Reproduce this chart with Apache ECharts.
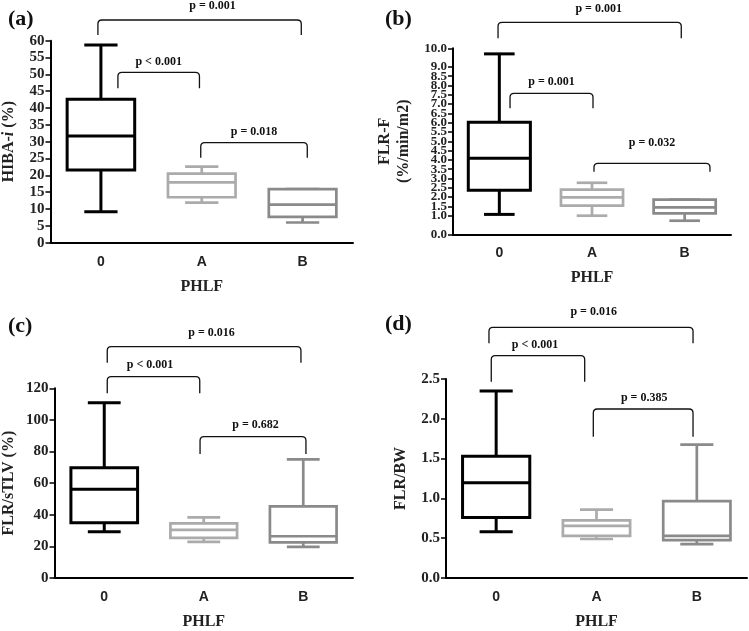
<!DOCTYPE html>
<html>
<head>
<meta charset="utf-8">
<script src="https://cdn.jsdelivr.net/npm/echarts@6/dist/echarts.min.js"></script>
<style>
html,body{margin:0;padding:0;background:#fff;}
#chart{width:749px;height:631px;}
</style>
</head>
<body>
<div id="chart"></div>
<script>
// ---- DATA ----
const categories = ['0', 'A', 'B'];
// each row: [min, Q1, median, Q3, max]
const hibaBoxes = [
  [9.2, 21.6, 31.7, 42.6, 58.7],
  [11.9, 13.5, 17.9, 20.5, 22.6],
  [6.0, 7.7, 11.3, 15.9, 15.9]
];
const flrfBoxes = [
  [1.07, 2.37, 4.09, 6.02, 9.7],
  [1.0, 1.54, 1.99, 2.4, 2.77],
  [0.73, 1.13, 1.45, 1.86, 1.86]
];
const flrStlvBoxes = [
  [29.2, 34.9, 56.2, 69.8, 110.9],
  [22.9, 25.4, 30.4, 34.5, 38.3],
  [19.7, 22.5, 26.4, 45.3, 75.0]
];
const flrBwBoxes = [
  [0.58, 0.76, 1.196, 1.53, 2.35],
  [0.49, 0.53, 0.654, 0.725, 0.86],
  [0.425, 0.475, 0.53, 0.966, 1.675]
];
// tick labels of panel (b)
const flrfTicks = [0, 0.5, 1, 1.5, 2, 2.5, 3, 3.5, 4, 4.5, 5, 5.5, 6, 6.5, 7, 7.5, 8, 8.5, 9, 9.5, 10];
const pHiba = ['p = 0.001', 'p < 0.001', 'p = 0.018'];
const pFlrf = ['p = 0.001', 'p = 0.001', 'p = 0.032'];
const pFlrStlv = ['p = 0.016', 'p < 0.001', 'p = 0.682'];
const pFlrBw = ['p = 0.016', 'p < 0.001', 'p = 0.385'];
const comparisons = [[0, 2], [0, 1], [1, 2]];

// ---- STYLE / LAYOUT ----
const boxColors = ['#000000', '#ababab', '#8a8a8a'];
const SERIF = '"Liberation Serif","Times New Roman",serif';
const SANS = '"Liberation Sans",Arial,sans-serif';

// bracket layout: per panel, per comparison: [fromOffsetPx, toOffsetPx, topY, bottomY, textY, textDx]
const bracketLayout = [
  [[-3, -1.3, 20, 35, 6, 13], [17, -2.3, 72.3, 88.3, 62, 0], [-1, 4.7, 142.7, 157.7, 131.7, 0]],
  [[-1.3, -3.4, 22.3, 38.3, 9, 9], [10.7, 1, 93.3, 108.3, 81.7, 0], [2, 25.3, 163.3, 171.7, 142.7, 0]],
  [[3, -2.3, 346.7, 362.7, 332.7, 7.5], [3, -4, 376.7, 393.3, 365, -3.5], [-3.7, 2.7, 436.7, 454, 425, 2.5]],
  [[-7.2, -3.8, 327.3, 343.3, 312, 2.7], [-4.9, -11.8, 355.7, 381.7, 345, -3], [-3.2, -3.8, 409, 436.7, 398.3, 1]]
];

const grids = [
  {left: 49, top: 40.7, width: 304, height: 202},
  {left: 453, top: 48.3, width: 278, height: 186},
  {left: 53, top: 388.3, width: 300, height: 197.4},
  {left: 446, top: 379, width: 301, height: 200}
];

const panels = [
  {boxes: hibaBoxes, p: pHiba, min: 0, max: 60, interval: 5, dec: 0,
   name: '{b|HIBA-}{i|i}{b| (%)}', nameGap: 32, labelSize: 15, labelLH: 15},
  {boxes: flrfBoxes, p: pFlrf, min: 0, max: 10, interval: 0.5, dec: 1, ticks: flrfTicks,
   name: '{b|FLR-F}\n{b|(%/min/m2)}', nameGap: 40, labelSize: 13, labelLH: 4},
  {boxes: flrStlvBoxes, p: pFlrStlv, min: 0, max: 120, interval: 20, dec: 0,
   name: '{b|FLR/sTLV (%)}', nameGap: 36, labelSize: 15, labelLH: 15},
  {boxes: flrBwBoxes, p: pFlrBw, min: 0, max: 2.5, interval: 0.5, dec: 1,
   name: '{b|FLR/BW}', nameGap: 36, labelSize: 15, labelLH: 15}
];

const panelLabels = [
  {text: '(a)', left: 3, top: 3},
  {text: '(b)', left: 380, top: 3},
  {text: '(c)', left: 3, top: 310},
  {text: '(d)', left: 380, top: 308}
];

const chart = echarts.init(document.getElementById('chart'), null, {renderer: 'canvas'});

function renderBox(params, api) {
  const idx = api.value(0);
  const cx = api.coord([idx, 0])[0];
  const band = api.size([1, 0])[0];
  const yMin = api.coord([idx, api.value(1)])[1];
  const yQ1 = api.coord([idx, api.value(2)])[1];
  const yMed = api.coord([idx, api.value(3)])[1];
  const yQ3 = api.coord([idx, api.value(4)])[1];
  const yMax = api.coord([idx, api.value(5)])[1];
  const bw = band * 0.67, cw = band * 0.33;
  const color = boxColors[idx];
  const lw = idx === 0 ? 3 : 2.7;
  const st = {stroke: color, lineWidth: lw, fill: null};
  const children = [
    {type: 'line', shape: {x1: cx, y1: yQ3, x2: cx, y2: yMax}, style: st},
    {type: 'line', shape: {x1: cx - cw / 2, y1: yMax, x2: cx + cw / 2, y2: yMax}, style: st},
    {type: 'line', shape: {x1: cx, y1: yQ1, x2: cx, y2: yMin}, style: st},
    {type: 'line', shape: {x1: cx - cw / 2, y1: yMin, x2: cx + cw / 2, y2: yMin}, style: st},
    {type: 'rect', shape: {x: cx - bw / 2, y: yQ3, width: bw, height: yQ1 - yQ3}, style: {stroke: color, lineWidth: lw, fill: '#fff'}},
    {type: 'line', shape: {x1: cx - bw / 2, y1: yMed, x2: cx + bw / 2, y2: yMed}, style: st}
  ];
  return {type: 'group', children: children};
}

function makeBracketRenderer(panelIdx) {
  return function (params, api) {
    const i = params.dataIndex;
    const lay = bracketLayout[panelIdx][i];
    const from = api.value(0), to = api.value(1);
    const x1 = api.coord([from, 0])[0] + lay[0];
    const x2 = api.coord([to, 0])[0] + lay[1];
    const yt = lay[2], yb = lay[3];
    const r = 4;
    const path = 'M' + x1 + ' ' + yb + ' L' + x1 + ' ' + (yt + r) +
      ' Q' + x1 + ' ' + yt + ' ' + (x1 + r) + ' ' + yt +
      ' L' + (x2 - r) + ' ' + yt +
      ' Q' + x2 + ' ' + yt + ' ' + x2 + ' ' + (yt + r) +
      ' L' + x2 + ' ' + yb;
    return {
      type: 'group',
      children: [
        {type: 'path', shape: {pathData: path}, style: {stroke: '#111', lineWidth: 1.3, fill: null}},
        {type: 'text', style: {
          text: panels[panelIdx].p[i], x: (x1 + x2) / 2 + lay[5], y: lay[4],
          align: 'center', verticalAlign: 'middle',
          font: 'bold 12px ' + SERIF, fill: '#111'
        }}
      ]
    };
  };
}

const xAxes = [], yAxes = [], series = [];
panels.forEach(function (p, k) {
  xAxes.push({
    type: 'category', gridIndex: k, data: categories,
    name: 'PHLF', nameLocation: 'middle', nameGap: 36,
    nameTextStyle: {fontFamily: SERIF, fontWeight: 'bold', fontSize: 16, color: '#222'},
    axisLine: {lineStyle: {color: '#000', width: 2}},
    axisTick: {alignWithLabel: true, length: 6, lineStyle: {color: '#000', width: 2}},
    axisLabel: {fontFamily: SANS, fontWeight: 'bold', fontSize: 14, color: '#222', margin: 12},
    splitLine: {show: false}
  });
  const axisLabel = {
    fontFamily: SERIF, fontWeight: 'bold', fontSize: p.labelSize, lineHeight: p.labelLH,
    color: '#222', margin: 6,
    hideOverlap: false, showMinLabel: true, showMaxLabel: true,
    formatter: function (v) { return Number(v).toFixed(p.dec); }
  };
  const axisTick = {show: true, length: 5, lineStyle: {color: '#000', width: 1.5}};
  if (p.ticks) {
    axisLabel.customValues = p.ticks;
    axisTick.customValues = p.ticks;
  }
  yAxes.push({
    type: 'value', gridIndex: k, min: p.min, max: p.max, interval: p.interval,
    name: p.name, nameLocation: 'middle', nameGap: p.nameGap, nameRotate: 90,
    nameTextStyle: {
      rich: {
        b: {fontFamily: SERIF, fontWeight: 'bold', fontSize: 16, color: '#222', lineHeight: 19},
        i: {fontFamily: SERIF, fontWeight: 'bold', fontStyle: 'italic', fontSize: 16, color: '#222', lineHeight: 19}
      }
    },
    axisLine: {show: true, lineStyle: {color: '#000', width: 2}},
    axisTick: axisTick,
    axisLabel: axisLabel,
    splitLine: {show: false}
  });
  series.push({
    type: 'custom', xAxisIndex: k, yAxisIndex: k,
    renderItem: renderBox,
    encode: {x: 0, y: [1, 2, 3, 4, 5]},
    data: p.boxes.map(function (b, i) { return [i].concat(b); }),
    clip: false, silent: true, z: 3
  });
  series.push({
    type: 'custom', xAxisIndex: k, yAxisIndex: k,
    renderItem: makeBracketRenderer(k),
    encode: {x: 0},
    data: comparisons.map(function (c) { return [c[0], c[1]]; }),
    clip: false, silent: true, z: 4
  });
});

chart.setOption({
  backgroundColor: '#fff',
  animation: false,
  title: panelLabels.map(function (l) {
    return {text: l.text, left: l.left, top: l.top,
      textStyle: {fontFamily: SERIF, fontWeight: 'bold', fontSize: 22, color: '#111'}};
  }),
  grid: grids,
  xAxis: xAxes,
  yAxis: yAxes,
  series: series
});
</script>
</body>
</html>
